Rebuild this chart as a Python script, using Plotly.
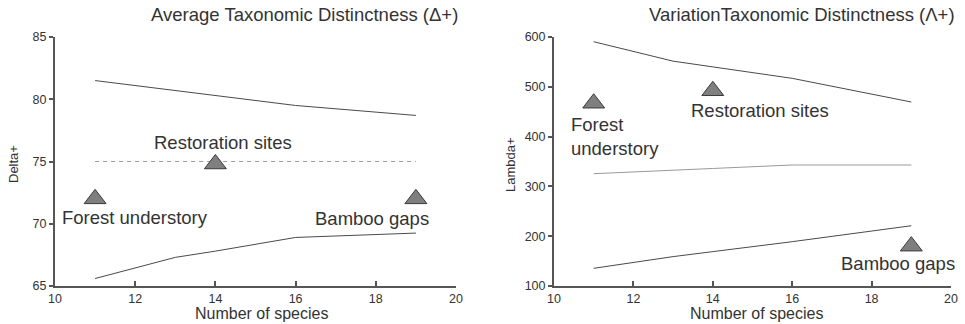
import plotly.graph_objects as go

# ---- data ----
species = [11, 13, 14, 16, 19]
delta_upper = [81.5, 80.7, 80.3, 79.5, 78.7]
delta_lower = [65.6, 67.3, 67.8, 68.9, 69.25]
delta_mean_x = [11, 19]
delta_mean = [75, 75]
delta_sites = ["Forest understory", "Restoration sites", "Bamboo gaps"]
delta_site_x = [11, 14, 19]
delta_site_y = [72.0, 74.8, 72.0]

lambda_upper = [590.5, 551.5, 540, 517, 469.5]
lambda_mean = [325.5, 331.5, 336, 343, 343]
lambda_lower = [135.5, 159, 169, 189, 221]
lambda_site_x = [11, 14, 19]
lambda_site_y = [467, 492, 180]

x_ticks = [10, 12, 14, 16, 18, 20]
delta_ticks = [65, 70, 75, 80, 85]
lambda_ticks = [100, 200, 300, 400, 500, 600]

FONT = "Liberation Sans, Arial, sans-serif"
LINE = "#4a4a4a"
TRI = dict(symbol="triangle-up", size=19, color="#7f7f7f", line=dict(color="#3a3a3a", width=1))

fig = go.Figure()
# left panel
fig.add_trace(go.Scatter(x=species, y=delta_upper, mode="lines", line=dict(color=LINE, width=1), xaxis="x", yaxis="y"))
fig.add_trace(go.Scatter(x=species, y=delta_lower, mode="lines", line=dict(color=LINE, width=1), xaxis="x", yaxis="y"))
fig.add_trace(go.Scatter(x=delta_mean_x, y=delta_mean, mode="lines", line=dict(color="#9a9a9a", width=1, dash="4px,4px"), xaxis="x", yaxis="y"))
fig.add_trace(go.Scatter(x=delta_site_x, y=delta_site_y, mode="markers", marker=TRI, xaxis="x", yaxis="y"))
# right panel
fig.add_trace(go.Scatter(x=species, y=lambda_upper, mode="lines", line=dict(color=LINE, width=1), xaxis="x2", yaxis="y2"))
fig.add_trace(go.Scatter(x=species, y=lambda_mean, mode="lines", line=dict(color="#9a9a9a", width=1), xaxis="x2", yaxis="y2"))
fig.add_trace(go.Scatter(x=species, y=lambda_lower, mode="lines", line=dict(color=LINE, width=1), xaxis="x2", yaxis="y2"))
fig.add_trace(go.Scatter(x=lambda_site_x, y=lambda_site_y, mode="markers", marker=TRI, xaxis="x2", yaxis="y2"))

ax_common = dict(showgrid=False, zeroline=False, showline=True, linecolor="#555555", linewidth=2,
                 ticklen=5, tickwidth=1.5, tickcolor="#555555", automargin=False,
                 tickfont=dict(family=FONT, size=12.5, color="#333333"))
ydom = [1 - 286 / 324, 1 - 37 / 324]
fig.update_layout(
    width=965, height=324, margin=dict(l=0, r=0, t=0, b=0),
    paper_bgcolor="white", plot_bgcolor="white", showlegend=False,
    font=dict(family=FONT, color="#333333"),
    xaxis=dict(ax_common, ticks="inside", domain=[55 / 965, 456 / 965], range=[10, 20], tickvals=x_ticks, anchor="y"),
    yaxis=dict(ax_common, ticks="outside", ticklen=4, domain=ydom, range=[65, 85], tickvals=delta_ticks, anchor="x"),
    xaxis2=dict(ax_common, ticks="inside", domain=[554 / 965, 951 / 965], range=[10, 20], tickvals=x_ticks, anchor="y2"),
    yaxis2=dict(ax_common, ticks="outside", ticklen=4, domain=ydom, range=[100, 600], tickvals=lambda_ticks, anchor="x2"),
)

def ann(text, x, y, xref="paper", yref="paper", size=18.5, **kw):
    fig.add_annotation(text=text, x=x, y=y, xref=xref, yref=yref, showarrow=False,
                       font=dict(family=FONT, size=size, color="#333333"), **kw)

# titles
ann("Average Taxonomic Distinctness (Δ+)", 460 / 965, 1 - 15 / 324, size=18.5, xanchor="right", yanchor="middle")
ann("VariationTaxonomic Distinctness (Λ+)", 957 / 965, 1 - 15 / 324, size=18.5, xanchor="right", yanchor="middle")
# axis titles
ann("Number of species", 261 / 965, 1 - 313 / 324, size=16, xanchor="center", yanchor="middle")
ann("Number of species", 756 / 965, 1 - 313 / 324, size=16, xanchor="center", yanchor="middle")
ann("Delta+", 13 / 965, 1 - 164 / 324, size=13, textangle=-90, xanchor="center", yanchor="middle")
ann("Lambda+", 510 / 965, 1 - 165 / 324, size=13, textangle=-90, xanchor="center", yanchor="middle")
# site labels (left)
ann(delta_sites[1], 14.2, 76.5, xref="x", yref="y", xanchor="center", yanchor="middle")
ann(delta_sites[0], 10.12, 70.5, xref="x", yref="y", xanchor="left", yanchor="middle")
ann(delta_sites[2], 17.9, 70.45, xref="x", yref="y", xanchor="center", yanchor="middle")
# site labels (right)
ann("Restoration sites", 15.19, 453, xref="x2", yref="y2", xanchor="center", yanchor="middle")
ann("Forest<br>understory", 10.38, 401, xref="x2", yref="y2", xanchor="left", yanchor="middle", align="left")
ann("Bamboo gaps", 18.67, 146, xref="x2", yref="y2", xanchor="center", yanchor="middle")

fig.write_html("out.html", config={"displayModeBar": False}, post_script="document.body.style.margin='0';")
